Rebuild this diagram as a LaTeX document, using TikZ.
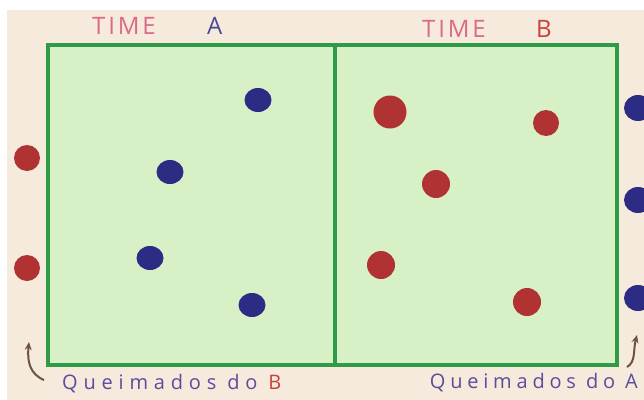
\documentclass[tikz,border=0pt]{standalone}
\usepackage{fontspec}
\setmainfont{Open Sans}
\usetikzlibrary{arrows.meta}
\definecolor{paper}{HTML}{F6EADC}
\definecolor{fieldfill}{HTML}{D8F0C6}
\definecolor{fieldline}{HTML}{2F9A48}
\definecolor{dotblue}{HTML}{2C2C84}
\definecolor{dotred}{HTML}{B03232}
\definecolor{txtpink}{HTML}{DA6A86}
\definecolor{txtblue}{HTML}{4A4A92}
\definecolor{txtred}{HTML}{C8423A}
\definecolor{txtpurple}{HTML}{5B4C9E}
\definecolor{arrowbrown}{HTML}{6E5248}
\tikzset{
  bluedot/.style={ellipse,fill=dotblue,inner sep=0pt,minimum width=27pt,minimum height=24pt},
  reddot/.style={circle,fill=dotred,inner sep=0pt,minimum size=26pt},
  title/.style={font=\fontsize{24}{24}\selectfont\addfontfeature{LetterSpace=12},inner sep=0pt},
  caption/.style={font=\fontsize{20}{20}\selectfont\addfontfeature{LetterSpace=29},text=txtpurple,inner sep=0pt},
  fieldborder/.style={draw=fieldline,line width=3.4pt},
  curvearrow/.style={draw=arrowbrown,line width=2pt,-{Stealth[length=8pt,width=7pt]}}
}
\usetikzlibrary{shapes.geometric}
\begin{document}
\begin{tikzpicture}[x=1pt,y=-1pt]
\useasboundingbox (0,0) rectangle (644,399);
\fill[white] (0,0) rectangle (644,399);
\fill[paper] (7,10) rectangle (645,400);
% field
\fill[fieldfill] (48,45) rectangle (617,365);
\draw[fieldborder] (48,45) rectangle (617,365);
\draw[fieldborder] (335,45) -- (335,365);
% titles
\node[title,anchor=west,text=txtpink] (tA) at (92,26) {TIME};
\node[title,anchor=west,text=txtblue] (lA) at (207,26) {A};
\node[title,anchor=west,text=txtpink] (tB) at (422,29) {TIME};
\node[title,anchor=west,text=txtred] (lB) at (536,29) {B};
% team A players (blue)
\node[bluedot] (a1) at (258,100) {};
\node[bluedot] (a2) at (170,172) {};
\node[bluedot] (a3) at (150,258) {};
\node[bluedot] (a4) at (252,305) {};
% team B players (red)
\node[reddot,minimum size=33pt] (b1) at (390,112) {};
\node[reddot] (b2) at (546,123) {};
\node[reddot,minimum size=28pt] (b3) at (436,184) {};
\node[reddot,minimum size=28pt] (b4) at (381,265) {};
\node[reddot,minimum size=28pt] (b5) at (527,302) {};
% burned (outside)
\node[reddot] (ob1) at (27,158) {};
\node[reddot] (ob2) at (27,268) {};
\node[bluedot,minimum width=28pt,minimum height=26pt] (oa1) at (638,108) {};
\node[bluedot,minimum width=28pt,minimum height=26pt] (oa2) at (638,200) {};
\node[bluedot,minimum width=28pt,minimum height=26pt] (oa3) at (638,298) {};
% captions
\node[caption,anchor=west] (cB) at (62,384) {Queimados do \textcolor{txtred}{B}};
\node[caption,anchor=east,font=\fontsize{20}{20}\selectfont\addfontfeature{LetterSpace=24}] (cA) at (638,383) {Queimados do A};
% arrows
\coordinate (l0) at (44,380);
\coordinate (l1) at (29,342);
\coordinate (r0) at (627,367);
\coordinate (r1) at (637,335);
\draw[curvearrow] (l0) .. controls (30,374) and (27,362) .. (l1);
\draw[curvearrow] (r0) .. controls (636,362) and (633,350) .. (r1);
\end{tikzpicture}
\end{document}
